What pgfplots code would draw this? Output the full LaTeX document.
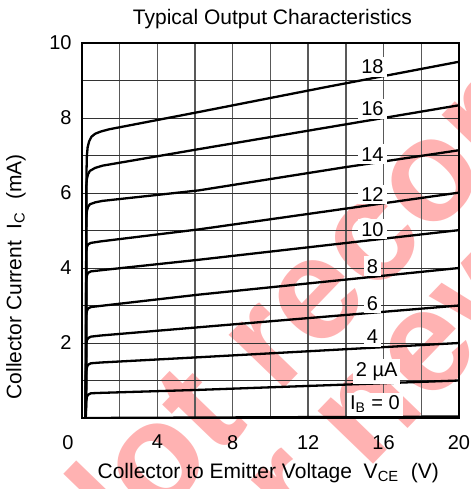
\documentclass[border=0pt]{standalone}
\usepackage{fontspec}
\setmainfont{Liberation Sans}
\usepackage{pgfplots}
\pgfplotsset{compat=1.18}

\begin{document}
\begin{tikzpicture}[x=1bp, y=1bp, font=\fontsize{10bp}{12bp}\selectfont]
\path[use as bounding box] (-41,-35.5) rectangle (194.5,209);

% watermark
\begin{scope}[red!30, font=\fontsize{72.5bp}{80bp}\selectfont\bfseries]
  \node[rotate=46, anchor=base west, inner sep=0] at (0,-90.3) {Not recommended};
  \node[rotate=46, anchor=base west, inner sep=0] at (61.2,-110.7) {for new design};
\end{scope}

\begin{axis}[
  at={(0,0)}, anchor=south west,
  scale only axis,
  width=188.5bp, height=187.5bp,
  xmin=0, xmax=20, ymin=0, ymax=10,
  xtick={4,8,...,20},
  extra x ticks={0},
  extra x tick style={xticklabel style={xshift=-7bp}, grid=none},
  minor xtick={2,6,10,14,18},
  ytick={2,4,...,10},
  minor ytick={1,3,5,7,9},
  grid=both,
  major tick length=0pt, minor tick length=0pt,
  axis line style={line width=1bp},
  x grid style={black!65, line width=0.7bp},
  y grid style={black!80, line width=0.5bp},
  /pgf/number format/assume math mode=true,
  xticklabel style={yshift=-5bp},
  yticklabel style={xshift=-1.7bp},
  title={Typical Output Characteristics},
  every axis title shift=0pt,
  title style={at={(axis description cs:0.505,1.048)}, anchor=base, yshift=0pt,
    font=\fontsize{10.5bp}{12bp}\selectfont},
  xlabel={Collector to Emitter Voltage~~V\textsubscript{CE}~~(V)},
  xlabel style={at={(axis description cs:0.494,-0.16)}, anchor=base,
    font=\fontsize{10.5bp}{12bp}\selectfont},
  ylabel={Collector Current~~I\textsubscript{C}~~(mA)},
  ylabel style={at={(axis description cs:-0.175,0.376)}, anchor=center,
    font=\fontsize{10.5bp}{12bp}\selectfont},
]
% I_B = 18 uA
\addplot[black, line width=1.15bp, line join=round] coordinates {(0.2,0) (0.24,6.6) (0.26,7.0) (0.3,7.22) (0.38,7.38) (0.5,7.5) (0.7,7.58) (1.0,7.64) (1.45,7.70) (6.2,8.16) (13,8.83) (20,9.50)};
% 16
\addplot[black, line width=1.15bp, line join=round] coordinates {(0.2,0) (0.23,6.2) (0.26,6.38) (0.32,6.5) (0.42,6.59) (0.7,6.67) (1.1,6.73) (6.2,7.17) (20,8.34)};
% 14
\addplot[black, line width=1.15bp, line join=round] coordinates {(0.2,0) (0.23,5.35) (0.26,5.52) (0.32,5.63) (0.42,5.70) (0.7,5.75) (1.1,5.79) (6.2,6.07) (13.86,6.68) (20,7.14)};
% 12
\addplot[black, line width=1.15bp, line join=round] coordinates {(0.2,0) (0.23,4.45) (0.26,4.56) (0.32,4.63) (0.48,4.67) (1.0,4.71) (6.2,5.03) (20,6.01)};
% 10
\addplot[black, line width=1.15bp, line join=round] coordinates {(0.2,0) (0.23,3.7) (0.26,3.8) (0.32,3.87) (0.48,3.91) (1.0,3.94) (6.2,4.22) (20,5.01)};
% 8
\addplot[black, line width=1.15bp, line join=round] coordinates {(0.2,0) (0.23,2.75) (0.26,2.85) (0.32,2.92) (0.48,2.96) (1.0,2.99) (6.2,3.29) (20,4.0)};
% 6
\addplot[black, line width=1.15bp, line join=round] coordinates {(0.2,0) (0.23,1.98) (0.26,2.07) (0.32,2.13) (0.48,2.17) (1.0,2.2) (6.2,2.42) (20,3.0)};
% 4
\addplot[black, line width=1.15bp, line join=round] coordinates {(0.2,0) (0.23,1.25) (0.26,1.35) (0.32,1.42) (0.48,1.46) (1.0,1.48) (6.2,1.62) (20,2.0)};
% 2
\addplot[black, line width=1.15bp, line join=round] coordinates {(0.2,0) (0.23,0.45) (0.26,0.56) (0.32,0.62) (0.48,0.66) (1.0,0.67) (6.2,0.75) (20,1.0)};
% 0
\addplot[black, line width=1.15bp] coordinates {(0.2,0) (20,0.04)};

\begin{scope}[every node/.style={fill=white, inner sep=1.5bp}]
  \node at (axis cs:15.41,9.37) {18};
  \node at (axis cs:15.41,8.24) {16};
  \node at (axis cs:15.41,7.03) {14};
  \node at (axis cs:15.41,5.96) {12};
  \node at (axis cs:15.41,5.03) {10};
  \node at (axis cs:15.41,4.05) {8};
  \node at (axis cs:15.41,3.06) {6};
  \node at (axis cs:15.41,2.17) {4};
  \node at (axis cs:15.63,1.24) {2 µA};
  \node at (axis cs:15.54,0.36) {I\textsubscript{B} = 0};
\end{scope}
\end{axis}
\end{tikzpicture}
\end{document}
